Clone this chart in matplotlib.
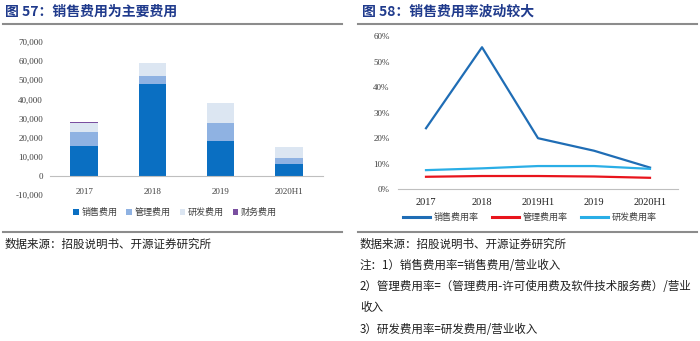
import matplotlib.pyplot as plt
import numpy as np
from matplotlib.ticker import FuncFormatter

plt.rcParams['font.family'] = ['Liberation Serif', 'Noto Sans CJK SC', 'DejaVu Sans']

# 图57: 各项费用（万元）
years_57 = ['2017', '2018', '2019', '2020H1']
sales_fee = [15500, 47800, 18200, 6000]
admin_fee = [7500, 4200, 9200, 3400]
rd_fee = [4900, 7000, 10800, 5800]
fin_fee = [400, 150, -200, -300]

# 图58: 费用率
periods_58 = ['2017', '2018', '2019H1', '2019', '2020H1']
sales_rate = [0.239, 0.556, 0.200, 0.151, 0.085]
admin_rate = [0.049, 0.052, 0.052, 0.050, 0.045]
rd_rate = [0.075, 0.082, 0.091, 0.091, 0.080]

navy = '#1f3a8c'
cjk = ['Noto Sans CJK SC', 'DejaVu Sans']

fig = plt.figure(figsize=(7, 3.41), dpi=100)

# titles and rules
fig.text(5 / 700, 1 - 12 / 341, '图 57：销售费用为主要费用', color=navy, fontsize=10,
         fontweight='bold', va='center', ha='left', family=cjk)
fig.text(362 / 700, 1 - 12 / 341, '图 58：销售费用率波动较大', color=navy, fontsize=10,
         fontweight='bold', va='center', ha='left', family=cjk)
for x0, x1 in [(3, 342), (358, 697)]:
    for y in (24, 231.5):
        fig.add_artist(plt.Line2D([x0 / 700, x1 / 700], [1 - y / 341] * 2,
                                  color='#8c8c8c', lw=1.5))

# left: stacked bars
ax1 = fig.add_axes([50 / 700, 1 - 195 / 341, 273 / 700, 153 / 341])
x = np.arange(len(years_57))
w = 0.4
pos_base = np.zeros(len(x))
for vals, col, lab in [(sales_fee, '#0a6fc2', '销售费用'), (admin_fee, '#8fb2e2', '管理费用'),
                       (rd_fee, '#dce6f2', '研发费用'), (fin_fee, '#7a4fa0', '财务费用')]:
    vals = np.array(vals, dtype=float)
    bottoms = np.where(vals >= 0, pos_base, 0)
    ax1.bar(x, vals, w, bottom=bottoms, color=col, label=lab)
    pos_base = pos_base + np.where(vals >= 0, vals, 0)
ax1.set_xlim(-0.5, 3.5)
ax1.set_ylim(-10000, 70000)
ax1.set_yticks(np.arange(-10000, 70001, 10000))
ax1.yaxis.set_major_formatter(FuncFormatter(lambda v, p: f'{v:,.0f}'))
ax1.set_xticks(x)
ax1.set_xticklabels(years_57)
for s in ['top', 'right', 'left']:
    ax1.spines[s].set_visible(False)
ax1.spines['bottom'].set_position(('data', 0))
ax1.spines['bottom'].set_color('#bfbfbf')
ax1.tick_params(axis='both', length=0, labelsize=6.5, colors='#404040')
ax1.tick_params(axis='x', pad=9)
ax1.tick_params(axis='y', pad=5)
leg1 = ax1.legend(loc='center', bbox_to_anchor=(125 / 273, -0.115), ncol=4, frameon=False,
                  handlelength=0.6, handleheight=0.6, handletextpad=0.3, columnspacing=1.0,
                  prop={'family': cjk, 'size': 6.5})
for t in leg1.get_texts():
    t.set_color('#404040')

# right: lines
ax2 = fig.add_axes([398 / 700, 1 - 189.3 / 341, 280 / 700, 153.3 / 341])
x2 = np.arange(len(periods_58))
ax2.plot(x2, sales_rate, color='#1f6db5', lw=1.6, label='销售费用率')
ax2.plot(x2, admin_rate, color='#e8141c', lw=1.6, label='管理费用率')
ax2.plot(x2, rd_rate, color='#2aaee6', lw=1.6, label='研发费用率')
ax2.set_xlim(-0.5, 4.5)
ax2.set_ylim(0, 0.6)
ax2.set_yticks(np.arange(0, 0.61, 0.1))
ax2.yaxis.set_major_formatter(FuncFormatter(lambda v, p: f'{v * 100:.0f}%'))
ax2.set_xticks(x2)
ax2.set_xticklabels(periods_58)
for s in ['top', 'right', 'left']:
    ax2.spines[s].set_visible(False)
ax2.spines['bottom'].set_color('#bfbfbf')
ax2.tick_params(axis='both', length=0, labelsize=6.5, colors='#404040')
ax2.tick_params(axis='x', pad=6, labelsize=7.5, colors='#202020')
ax2.tick_params(axis='y', pad=6)
leg2 = ax2.legend(loc='center', bbox_to_anchor=(132 / 280, -0.185), ncol=3, frameon=False,
                  handlelength=3.0, handletextpad=0.4, columnspacing=1.5,
                  prop={'family': cjk, 'size': 6.5})
for line in leg2.get_lines():
    line.set_linewidth(2.2)
for t in leg2.get_texts():
    t.set_color('#404040')

# notes
note_kw = dict(fontsize=8.3, color='#202020', va='center', ha='left', family=cjk)
fig.text(5 / 700, 1 - 244 / 341, '数据来源：招股说明书、开源证券研究所', **note_kw)
notes = ['数据来源：招股说明书、开源证券研究所',
         '注：1）销售费用率=销售费用/营业收入',
         '2）管理费用率=（管理费用-许可使用费及软件技术服务费）/营业',
         '收入',
         '3）研发费用率=研发费用/营业收入']
for i, line in enumerate(notes):
    fig.text(360 / 700, 1 - (244 + i * 21.3) / 341, line, **note_kw)

fig.savefig('out.png', dpi=100)
